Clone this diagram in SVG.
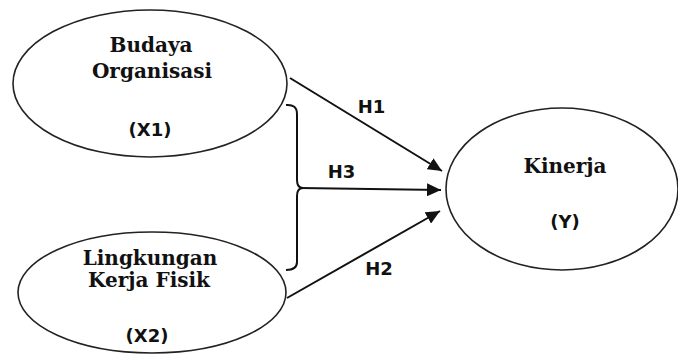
<svg xmlns="http://www.w3.org/2000/svg" width="678" height="354" viewBox="0 0 678 354">
<style>
.node{fill:#fff;stroke:#222;stroke-width:1.6}
.t{font-family:"DejaVu Serif","Liberation Serif",serif;font-weight:bold;font-size:20px;fill:#111;text-anchor:middle}
.s{font-family:"DejaVu Sans","Liberation Sans",sans-serif;font-weight:bold;font-size:18px;fill:#111;text-anchor:middle}
.c{fill:none;stroke:#111;stroke-width:2}
</style>
<defs>
<marker id="ah" markerUnits="userSpaceOnUse" markerWidth="15" markerHeight="13" refX="14" refY="6.5" orient="auto">
<path d="M0,0 L14,6.5 L0,13 Z" fill="#111"/>
</marker>
</defs>
<rect width="678" height="354" fill="#fff"/>
<g id="x1">
<ellipse class="node" cx="150" cy="83.5" rx="137" ry="73.5"/>
<text class="t" x="151" y="52">Budaya</text>
<text class="t" x="152" y="78">Organisasi</text>
<text class="s" x="150" y="136">(X1)</text>
</g>
<g id="x2">
<ellipse class="node" cx="152" cy="292.5" rx="134" ry="60.5"/>
<text class="t" x="150" y="265">Lingkungan</text>
<text class="t" x="149" y="287">Kerja Fisik</text>
<text class="s" x="147" y="342">(X2)</text>
</g>
<g id="y">
<ellipse class="node" cx="562" cy="189" rx="116" ry="81"/>
<text class="t" x="565" y="173">Kinerja</text>
<text class="s" x="565" y="228">(Y)</text>
</g>
<g id="connectors">
<line class="c" x1="290" y1="78" x2="442" y2="171" marker-end="url(#ah)"/>
<line class="c" x1="300" y1="188" x2="441" y2="190" marker-end="url(#ah)"/>
<line class="c" x1="287" y1="298" x2="440" y2="211" marker-end="url(#ah)"/>
<path class="c" d="M286,105 Q297,104 297,114 L297,180 Q297,188 303,188 Q297,188 297,196 L297,262 Q297,270 286,270"/>
<text class="s" x="371.5" y="113">H1</text>
<text class="s" x="341.5" y="178">H3</text>
<text class="s" x="379" y="275">H2</text>
</g>
</svg>
